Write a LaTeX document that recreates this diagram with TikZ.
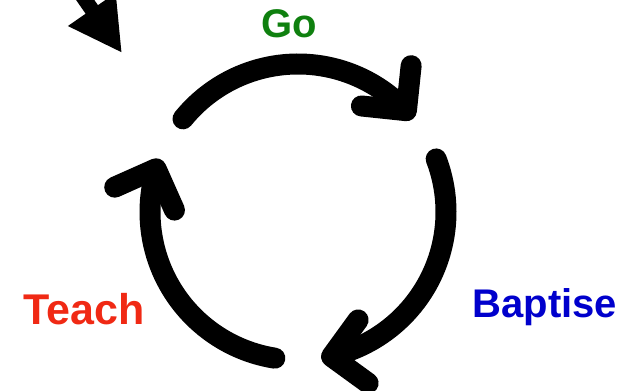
\documentclass[tikz,border=0pt]{standalone}
\usepackage{fontspec}
\setmainfont{Liberation Sans}
\usetikzlibrary{arrows.meta,bending}
\definecolor{GoClr}{rgb}{0.06,0.5,0.06}
\definecolor{BaptiseClr}{rgb}{0,0,0.8}
\definecolor{TeachClr}{rgb}{0.94,0.16,0.08}

\begin{document}
\begin{tikzpicture}[x=1pt,y=1pt,
  cycarc/.style={line width=21pt,line cap=round,-{Straight Barb[length=32pt,width=64pt,round,flex]}},
  word/.style={font=\bfseries\fontsize{40}{40}\selectfont,anchor=base}]
\useasboundingbox (0,0) rectangle (630,391);
\clip (0,0) rectangle (630,391);

\coordinate (hub) at (298,179);
\coordinate (tail) at (54,436);
\coordinate (tip) at (122,338);

\draw[cycarc] (hub) ++(141:148pt) arc[start angle=141,end angle=39,radius=148pt];
\draw[cycarc] (hub) ++(21:148pt) arc[start angle=21,end angle=-81,radius=148pt];
\draw[cycarc] (hub) ++(-99:148pt) arc[start angle=-99,end angle=-201,radius=148pt];

\draw[line width=15pt,-{Triangle[length=53pt,width=54pt]}] (tail) -- (tip);

\node[word,text=GoClr] (go) at (289,353) {Go};
\node[word,text=BaptiseClr] (baptise) at (545,73) {Baptise};
\node[word,text=TeachClr,font=\bfseries\fontsize{43}{43}\selectfont] (teach) at (84,66) {Teach};

\end{tikzpicture}
\end{document}
